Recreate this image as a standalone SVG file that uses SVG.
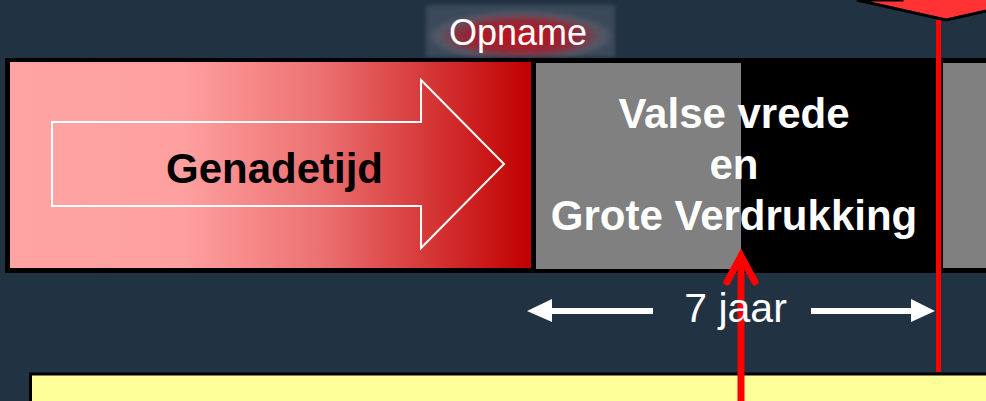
<svg xmlns="http://www.w3.org/2000/svg" width="986" height="401" viewBox="0 0 986 401">
<defs>
<linearGradient id="gRed" x1="10" y1="0" x2="531" y2="0" gradientUnits="userSpaceOnUse">
<stop offset="0" stop-color="#FFA3A3"/>
<stop offset="0.33" stop-color="#FFA0A0"/>
<stop offset="0.6" stop-color="#EC7070"/>
<stop offset="1" stop-color="#C00000"/>
</linearGradient>
<radialGradient id="gGlow" cx="0.5" cy="0.6" r="0.5">
<stop offset="0" stop-color="#C8101A"/>
<stop offset="0.6" stop-color="#902838"/>
<stop offset="0.88" stop-color="#505A68"/>
<stop offset="1" stop-color="#3A4858"/>
</radialGradient>
<filter id="blur" x="-10%" y="-20%" width="120%" height="140%"><feGaussianBlur stdDeviation="2"/></filter>
</defs>
<style>
.bold{font-family:"Liberation Sans",Arial,sans-serif;font-weight:bold;text-anchor:middle}
.reg{font-family:"Liberation Sans",Arial,sans-serif;text-anchor:middle;fill:#FFFFFF}
.white-arrow{stroke:#FFFFFF;stroke-width:6;fill:none}
</style>
<rect width="986" height="401" fill="#213243"/>

<g id="opname">
<rect x="426" y="5" width="189" height="52" fill="url(#gGlow)" filter="url(#blur)"/>
<text class="reg" x="518" y="45" font-size="36">Opname</text>
</g>

<g id="band">
<rect x="5" y="58" width="981" height="215" fill="#000000"/>
</g>

<g id="genadetijd">
<rect x="10" y="62" width="521" height="206" fill="url(#gRed)"/>
<polygon points="52,122 421,122 421,80 504,164 421,248 421,206 52,206" fill="none" stroke="#FFFFFF" stroke-width="2"/>
<text class="bold" x="274.5" y="183" font-size="42" fill="#000000">Genadetijd</text>
</g>

<g id="verdrukking">
<rect x="536" y="63" width="205" height="206" fill="#808080"/>
<rect x="943" y="63" width="50" height="205" fill="#808080"/>
<text class="bold" x="734" y="128" font-size="42" fill="#FFFFFF">Valse vrede</text>
<text class="bold" x="734" y="179" font-size="42" fill="#FFFFFF">en</text>
<text class="bold" x="734" y="230" font-size="42" fill="#FFFFFF">Grote Verdrukking</text>
</g>

<g id="callout">
<polygon points="902,-40 902,0 857,0 946,20 1035,0 990,0 990,-40" fill="#FF3333" stroke="#000000" stroke-width="3" stroke-linejoin="miter"/>
</g>

<g id="yellowbox">
<rect x="30.5" y="374" width="970" height="40" fill="#FFFF99" stroke="#000000" stroke-width="3"/>
</g>

<g id="connectors">
<line x1="938.5" y1="20" x2="938.5" y2="372" stroke="#FF0000" stroke-width="5"/>
<line x1="653" y1="311" x2="548" y2="311" class="white-arrow"/>
<polygon points="527,311 552,299 552,322" fill="#FFFFFF"/>
<line x1="811" y1="311" x2="914" y2="311" class="white-arrow"/>
<polygon points="935,311 911,299 911,322" fill="#FFFFFF"/>
<line x1="741" y1="401" x2="741" y2="258" stroke="#FF0000" stroke-width="7"/>
<polyline points="727,282 741,256 755,282" fill="none" stroke="#FF0000" stroke-width="7" stroke-linecap="round" stroke-linejoin="miter"/>
</g>

<g id="label7">
<text class="reg" x="735.5" y="322" font-size="41">7 jaar</text>
</g>
</svg>
